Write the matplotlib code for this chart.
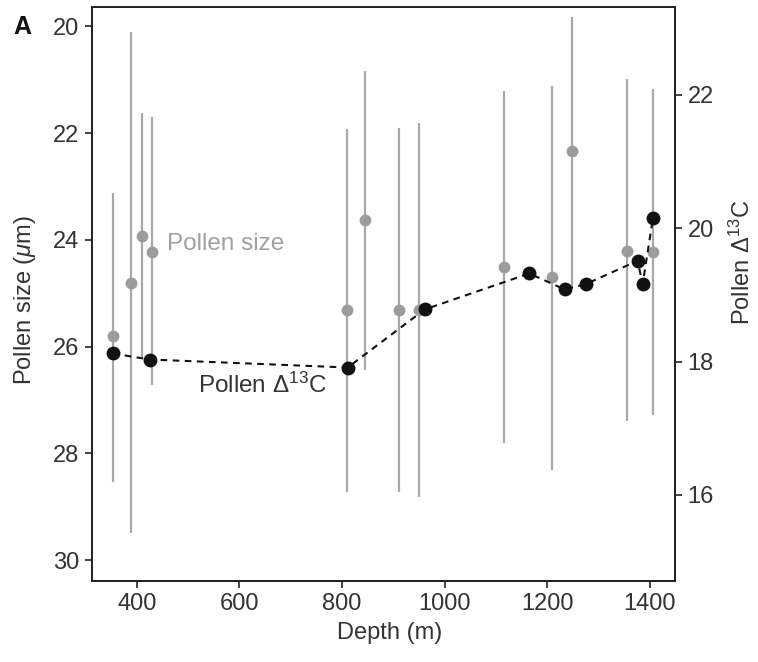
import matplotlib
matplotlib.use("Agg")
import matplotlib.pyplot as plt

plt.rcParams['font.family'] = 'Liberation Sans'
plt.rcParams['mathtext.fontset'] = 'custom'
plt.rcParams['mathtext.rm'] = 'Liberation Sans'
plt.rcParams['mathtext.it'] = 'Liberation Sans:italic'

# pollen size (left axis, inverted) with error bars
size_depth = [353, 388, 410, 429, 809, 844, 911, 950, 1115, 1209, 1248, 1356, 1406]
size_val = [25.80, 24.81, 23.92, 24.22, 25.31, 23.62, 25.31, 25.31, 24.50, 24.70, 22.33, 24.20, 24.22]
size_top = [23.12, 20.11, 21.62, 21.70, 21.92, 20.83, 21.91, 21.81, 21.20, 21.11, 19.82, 20.98, 21.17]
size_bot = [28.54, 29.49, 26.22, 26.72, 28.72, 26.44, 28.72, 28.81, 27.81, 28.31, 24.88, 27.39, 27.28]

# pollen delta 13C (right axis)
d13c_depth = [353, 425, 811, 961, 1165, 1234, 1275, 1376, 1386, 1406]
d13c_val = [18.12, 18.03, 17.91, 18.78, 19.32, 19.08, 19.16, 19.51, 19.16, 20.15]

fig = plt.figure(figsize=(7.58, 6.62), dpi=100)
ax = fig.add_axes([0.121, 0.1224, 0.7695, 0.8666])
ax2 = ax.twinx()

grey = '#9c9c9c'
text_col = '#333333'
fs = 17

err_lo = [v - t for v, t in zip(size_val, size_top)]
err_hi = [b - v for v, b in zip(size_val, size_bot)]
ax.errorbar(size_depth, size_val, yerr=[err_lo, err_hi], fmt='o', color=grey,
            ecolor='#a8a8a8', elinewidth=1.6, capsize=0, markersize=8.5,
            markeredgewidth=0, zorder=2)

ax2.plot(d13c_depth, d13c_val, color='#111111', linestyle=(0, (3.2, 2.6)),
         linewidth=1.5, marker='o', markersize=10, markeredgewidth=0, zorder=3)

ax.set_xlim(312, 1449)
ax.set_ylim(30.39, 19.64)
ax2.set_ylim(14.71, 23.31)

ax.set_xticks([400, 600, 800, 1000, 1200, 1400])
ax.set_yticks([20, 22, 24, 26, 28, 30])
ax2.set_yticks([16, 18, 20, 22])

for a in (ax, ax2):
    for s in a.spines.values():
        s.set_linewidth(1.3)
        s.set_color('#222222')
    a.tick_params(direction='out', length=5, width=1.2, color='#222222',
                  labelsize=fs, labelcolor=text_col, pad=4)

ax.text(458, 24.07, 'Pollen size', color='#a0a0a0', fontsize=fs + 0.5, va='center', ha='left')
ax.text(644, 26.72, 'Pollen Δ$^{13}$C', color=text_col, fontsize=fs + 0.5, va='center', ha='center')

fig.text(25 / 758, 1 - 300 / 662, 'Pollen size ($\\mathit{\\mu}$m)', rotation=90,
         ha='center', va='center', fontsize=fs, color=text_col)
fig.text(742 / 758, 1 - 262 / 662, 'Pollen Δ$^{13}$C', rotation=90,
         ha='center', va='center', fontsize=fs, color=text_col)
fig.text(390 / 758, 1 - 633 / 662, 'Depth (m)', ha='center', va='center',
         fontsize=fs, color=text_col)
fig.text(22 / 758, 1 - 27 / 662, 'A', ha='center', va='center', fontsize=18,
         fontweight='bold', color='#111111')

fig.savefig('out.png', dpi=100, facecolor='white')
